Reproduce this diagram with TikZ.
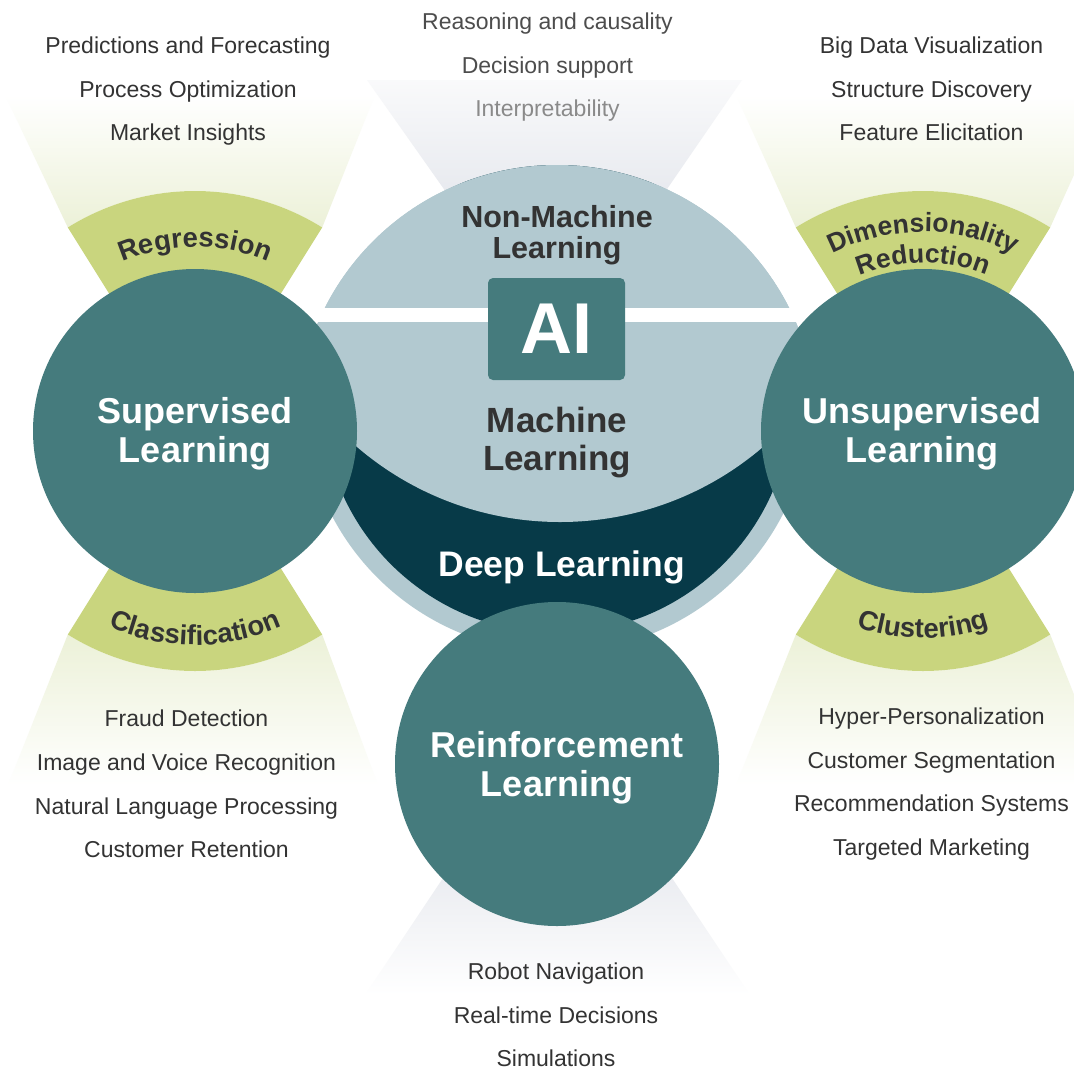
\documentclass[tikz,border=0pt]{standalone}
\usepackage{fontspec}
\setmainfont{Liberation Sans}
\usepackage{xcolor}
\usetikzlibrary{positioning, decorations.text}

\definecolor{tealc}{HTML}{457B7D}
\definecolor{darkdl}{HTML}{073A48}
\definecolor{lightml}{HTML}{B2C9D0}
\definecolor{bandgreen}{HTML}{C9D57E}
\definecolor{fadegreen}{HTML}{ECF1D8}
\definecolor{fadegray}{HTML}{E8EAEF}
\definecolor{txt}{HTML}{333333}
\definecolor{txtmid}{HTML}{4D4D4D}
\definecolor{txtlight}{HTML}{8A8A8A}

\newcommand{\itemfont}{\fontsize{23}{27}\selectfont}
\newcommand{\circfont}{\fontsize{36}{39}\selectfont\bfseries}
\newcommand{\bandfont}{\fontsize{27.5}{30}\selectfont\bfseries}
\newcommand{\dimfont}{\fontsize{26.5}{29}\selectfont\bfseries}

\begin{document}
\begin{tikzpicture}[
    x=1pt, y=1pt,
    node distance=22.3pt,
    circ/.style={circle, fill=tealc, minimum size=324pt, inner sep=0pt},
    circtext/.style={text=white, font=\circfont, align=center, inner sep=0pt},
    item/.style={font=\itemfont, text=txt, inner sep=0pt, text height=16.5pt, text depth=4.5pt},
    band/.style={fill=bandgreen},
    label/.style={text=txt, align=center, inner sep=0pt},
    bandtext/.style={decorate, decoration={text along path, text align=center, text color=txt}}
]
    \path[use as bounding box, fill=white] (0,0) rectangle (1074,-1069);

    % Centres
    \coordinate (supc) at (195,-431);
    \coordinate (unsc) at (923,-431);
    \coordinate (reic) at (557,-764);
    \coordinate (aic) at (557,-425);
    \coordinate (dlc) at (557,-398);
    \coordinate (mlc) at (560,-210);

    % Fades
    \shade[top color=white, bottom color=fadegreen] ([shift={(122:240)}]supc) -- (5,-95) -- (375,-95) -- ([shift={(58:240)}]supc) arc[start angle=58, end angle=122, radius=240] -- cycle;
    \shade[top color=white, bottom color=fadegreen] ([shift={(122:240)}]unsc) -- (736,-95) -- (1110,-95) -- ([shift={(58:240)}]unsc) arc[start angle=58, end angle=122, radius=240] -- cycle;
    \shade[top color=fadegreen, bottom color=white] ([shift={(238:240)}]supc) -- (8,-785) -- (378,-785) -- ([shift={(302:240)}]supc) arc[start angle=302, end angle=238, radius=240] -- cycle;
    \shade[top color=fadegreen, bottom color=white] ([shift={(238:240)}]unsc) -- (736,-785) -- (1110,-785) -- ([shift={(302:240)}]unsc) arc[start angle=302, end angle=238, radius=240] -- cycle;
    \shade[top color=fadegray!25, bottom color=fadegray] (367,-80) -- (742,-80) -- (665,-192) -- (446,-192) -- cycle;
    \shade[top color=fadegray, bottom color=white] (455,-860) -- (660,-860) -- (750,-995) -- (365,-995) -- cycle;

    % Bands
    \fill[band] ([shift={(58:150)}]supc) arc[start angle=58, end angle=122, radius=150] -- ([shift={(122:240)}]supc) arc[start angle=122, end angle=58, radius=240] -- cycle;
    \fill[band] ([shift={(238:150)}]supc) arc[start angle=238, end angle=302, radius=150] -- ([shift={(302:240)}]supc) arc[start angle=302, end angle=238, radius=240] -- cycle;
    \fill[band] ([shift={(58:150)}]unsc) arc[start angle=58, end angle=122, radius=150] -- ([shift={(122:240)}]unsc) arc[start angle=122, end angle=58, radius=240] -- cycle;
    \fill[band] ([shift={(238:150)}]unsc) arc[start angle=238, end angle=302, radius=150] -- ([shift={(302:240)}]unsc) arc[start angle=302, end angle=238, radius=240] -- cycle;

    % AI disc
    \begin{scope}
        \clip (aic) circle[radius=260];
        \fill[lightml] (dlc) circle[radius=254];
        \fill[darkdl] (dlc) circle[radius=235];
        \fill[lightml] (mlc) circle[radius=312];
    \end{scope}
    \fill[white] (300,-307.7) rectangle (815,-322.3);
    \node[fill=tealc, rounded corners=5pt, minimum width=137pt, minimum height=102pt, inner sep=0pt, text=white, font=\fontsize{72}{76}\selectfont\bfseries] (ai) at (556.5,-329) {AI};

    \node[label, font=\fontsize{30.5}{31}\selectfont\bfseries] (nml) at (557,-234.7) {Non-Machine\\Learning};
    \node[label, font=\fontsize{35}{37.5}\selectfont\bfseries] (ml) at (557,-442.6) {Machine\\Learning};
    \node[label, text=white, font=\fontsize{35.5}{38}\selectfont\bfseries] (dl) at (561.7,-567) {Deep Learning};

    % Learning circles
    \node[circ] (sup) at (supc) {};
    \node[circ] (uns) at (unsc) {};
    \node[circ] (rei) at (reic) {};
    \node[circtext] (supl) at ([yshift=-3pt]sup.center) {Supervised\\Learning};
    \node[circtext] (unsl) at ([xshift=-1pt, yshift=-3pt]uns.center) {Unsupervised\\Learning};
    \node[circtext] (reil) at ([yshift=-4pt]rei.center) {Reinforcement\\Learning};

    % Band labels
    \path[bandtext, decoration={text={|\bandfont|Regression}}] ([shift={(150:184)}]supc) arc[start angle=150, end angle=30, radius=184];
    \path[bandtext, decoration={text={|\bandfont|Classification}}] ([shift={(210:214)}]supc) arc[start angle=210, end angle=330, radius=214];
    \path[bandtext, decoration={text={|\dimfont|Dimensionality}}] ([shift={(150:199)}]unsc) arc[start angle=150, end angle=30, radius=199];
    \path[bandtext, decoration={text={|\dimfont|Reduction}}] ([shift={(150:168)}]unsc) arc[start angle=150, end angle=30, radius=168];
    \path[bandtext, decoration={text={|\bandfont|Clustering}}] ([shift={(210:207)}]unsc) arc[start angle=210, end angle=330, radius=207];

    % Regression uses
    \node[item] (r1) at (188,-47.3) {Predictions and Forecasting};
    \node[item, below=of r1] (r2) {Process Optimization};
    \node[item, below=of r2] (r3) {Market Insights};

    % Dimensionality reduction uses
    \node[item] (d1) at (931.5,-47.3) {Big Data Visualization};
    \node[item, below=of d1] (d2) {Structure Discovery};
    \node[item, below=of d2] (d3) {Feature Elicitation};

    % Non-machine learning uses
    \node[item, text=txtmid] (n1) at (547.5,-23.3) {Reasoning and causality};
    \node[item, text=txtmid, below=of n1] (n2) {Decision support};
    \node[item, text=txtlight, below=of n2] (n3) {Interpretability};

    % Classification uses
    \node[item] (c1) at (186.5,-720.7) {Fraud Detection};
    \node[item, below=of c1] (c2) {Image and Voice Recognition};
    \node[item, below=of c2] (c3) {Natural Language Processing};
    \node[item, below=of c3] (c4) {Customer Retention};

    % Clustering uses
    \node[item] (k1) at (931.5,-718.3) {Hyper-Personalization};
    \node[item, below=of k1] (k2) {Customer Segmentation};
    \node[item, below=of k2] (k3) {Recommendation Systems};
    \node[item, below=of k3] (k4) {Targeted Marketing};

    % Reinforcement uses
    \node[item] (e1) at (556,-973.3) {Robot Navigation};
    \node[item, below=of e1] (e2) {Real-time Decisions};
    \node[item, below=of e2] (e3) {Simulations};
\end{tikzpicture}
\end{document}
